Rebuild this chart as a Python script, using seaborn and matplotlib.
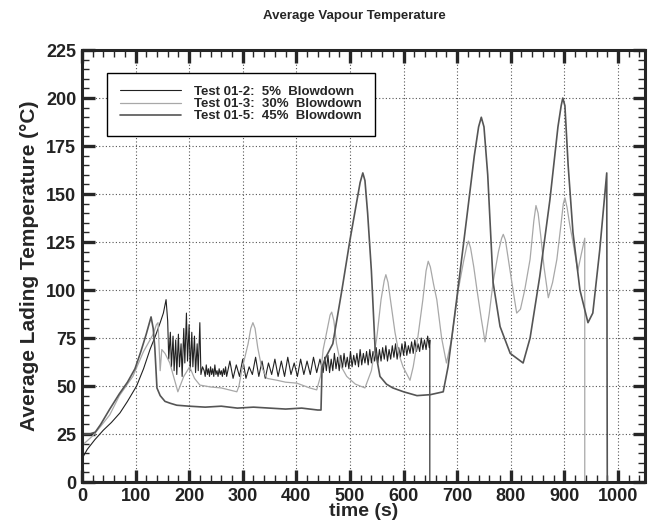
import matplotlib
matplotlib.use("Agg")
import matplotlib.pyplot as plt
import seaborn as sns
import pandas as pd
from matplotlib.ticker import MultipleLocator

# Test 01-2: 5% Blowdown (oscillating trace, ends at ~649 s)
t_012 = [0, 4, 10, 24, 40, 55, 71, 85, 102, 115, 127, 137, 146, 152, 157,
         160, 162, 165, 167, 170, 172, 175, 177, 180, 182, 185, 187, 190, 192, 195,
         197, 200, 202, 205, 207, 210, 212, 215, 217, 220, 222, 225,
         228, 230, 232, 234, 236, 238, 240, 242, 244, 246, 248, 250, 252, 254, 256,
         258, 260, 262, 264, 266, 268,
         270, 276, 282, 288, 294, 300, 306, 312, 318, 324, 330, 336, 342, 348, 354,
         360, 366, 372, 378, 384, 390, 396, 402, 408, 414, 420, 426, 432, 438, 444,
         450, 453, 456, 459, 462, 465, 468, 471, 474, 477, 480, 483, 486, 489, 492,
         495, 498, 501, 504, 507, 510, 513, 516, 519, 522, 525, 528, 531, 534, 537,
         540, 543, 546, 549, 552, 555, 558, 561, 564, 567, 570, 573, 576, 579, 582,
         585, 588, 591, 594, 597, 600, 603, 606, 609, 612, 615, 618, 621, 624, 627,
         630, 633, 636, 639, 642, 645, 648, 649, 649]
T_012 = [12, 14, 17, 22, 27, 31, 36, 42, 50, 59, 69, 76, 83, 88, 95,
         84, 64, 78, 60, 76, 58, 74, 56, 77, 60, 72, 55, 80, 62, 88,
         63, 82, 58, 78, 60, 76, 57, 72, 58, 83, 56, 60,
         58, 55, 61, 56, 59, 55, 60, 56, 59, 55, 61, 56, 58, 55, 59,
         56, 58, 55, 59, 56, 60,
         55, 63, 54, 61, 55, 64, 54, 60, 56, 65, 55, 63, 54, 62, 56,
         64, 55, 63, 55, 65, 56, 62, 55, 64, 56, 63, 56, 65, 57, 64,
         57, 65, 58, 66, 57, 64, 58, 67, 59, 65, 58, 66, 59, 67, 60,
         65, 59, 68, 60, 66, 61, 67, 60, 69, 61, 67, 62, 68, 61, 69,
         62, 68, 63, 70, 62, 69, 63, 70, 64, 71, 63, 69, 64, 71, 65,
         72, 64, 70, 65, 72, 66, 73, 66, 71, 67, 73, 67, 74, 68, 72,
         68, 75, 69, 74, 69, 76, 70, 74, 0]

# Test 01-3: 30% Blowdown (light trace, ends at ~938 s)
t_013 = [0, 4, 20, 35, 52, 70, 95, 115, 133, 139, 142, 146, 149, 155, 164, 172, 179,
         190, 201, 210, 220, 240, 260, 289, 293, 298, 310, 315, 319, 323, 328, 335, 345,
         364, 380, 401, 425, 438, 445, 450, 458, 463, 466, 470, 475, 484, 494, 510,
         528, 540, 550, 558, 564, 567, 571, 577, 584, 592, 599, 612, 618, 625, 636, 642, 646,
         650, 656, 662, 671, 680, 690, 702, 712, 718, 721, 725, 731, 737, 745, 752, 760, 767,
         777, 783, 786, 790, 796, 802, 811, 818, 826, 836, 843, 847, 851, 856, 862, 870, 878,
         886, 894, 898, 901, 905, 910, 916, 925, 931, 938, 938]
T_013 = [18, 20, 24, 29, 35, 45, 55, 68, 77, 82, 83, 58, 69, 67, 62, 54, 47,
         55, 60, 54, 50.5, 49.5, 49, 47, 50, 58, 72, 80, 83, 80, 70, 60, 54,
         53, 52, 51.5, 49, 48, 55, 69, 80, 87, 88.5, 84, 72, 60, 55, 51,
         49, 58, 75, 95, 105, 108, 104, 92, 78, 66, 60, 53, 60, 72, 95, 110, 115,
         112, 103, 95, 75, 62, 75, 100, 115, 123, 125.5, 122, 112, 100, 85, 73, 88, 104,
         120, 127, 129, 126, 115, 104, 88, 90, 100, 116, 136, 144, 140, 128, 112, 96, 104,
         116, 135, 145, 148, 143, 134, 125, 110, 118, 127, 0]

# Test 01-5: 45% Blowdown (large peaks, ends at ~980 s)
t_015 = [0, 5, 15, 25, 35, 52, 70, 85, 99, 110, 120, 129, 133, 136, 140, 146,
         155, 165, 177, 200, 230, 260, 290, 320, 350, 380, 410, 440, 446, 448,
         455, 468, 485, 500, 512, 519, 524, 528, 533, 540, 547, 556, 568, 580, 600, 625,
         650, 674, 683, 699, 718, 732, 740, 745, 750, 757, 767, 780, 799, 823, 836, 854,
         873, 888, 894, 897, 901, 907, 916, 929, 944, 953, 966, 979, 980]
T_015 = [24, 25, 25, 26, 30, 38, 46, 52, 59, 68, 77, 86, 80, 70, 49, 45,
         42, 41, 40, 39.5, 39, 39.5, 38.5, 39, 38.5, 38, 38.5, 37.5, 37.5, 60,
         65, 72, 100, 126, 145, 156, 161, 157, 140, 110, 69, 55, 51, 49, 47, 45,
         45.5, 47, 60, 95, 138, 170, 185, 190, 185, 160, 104, 81, 67, 62, 75, 107,
         147, 185, 196, 200, 196, 165, 130, 100, 83, 88, 121, 161, 0]

labels = ["Test 01-2:  5%  Blowdown", "Test 01-3:  30%  Blowdown", "Test 01-5:  45%  Blowdown"]
colors = ["#222222", "#a8a8a8", "#555555"]
widths = [0.8, 0.9, 1.2]

x_ticks = list(range(0, 1001, 100))
y_ticks = list(range(0, 226, 25))

sns.set_style("ticks")
plt.rcParams["font.family"] = ["Liberation Sans", "DejaVu Sans"]

fig = plt.figure(figsize=(6.5, 5.22), dpi=100)
ax = fig.add_axes([0.126, 0.0766, 0.866, 0.8275])

series = [(t_012, T_012), (t_013, T_013), (t_015, T_015)]
for (t, T), lab, c, w in zip(series, labels, colors, widths):
    df = pd.DataFrame({"time": t, "temp": T})
    sns.lineplot(data=df, x="time", y="temp", ax=ax, color=c, lw=w,
                 estimator=None, sort=False, label=lab)

ax.set_xlim(0, 1050)
ax.set_ylim(0, 225)
ax.set_xticks(x_ticks)
ax.set_yticks(y_ticks)
ax.xaxis.set_minor_locator(MultipleLocator(20))
ax.yaxis.set_minor_locator(MultipleLocator(5))
ax.grid(True, which="major", ls=(0, (1, 2)), color="#555555", lw=0.8)

for s in ax.spines.values():
    s.set_linewidth(2.2)
    s.set_visible(True)
ax.tick_params(which="major", direction="in", length=9, width=2.4,
               top=True, right=True, labelsize=13, pad=4)
ax.tick_params(which="minor", direction="in", length=5, width=1,
               top=True, right=True)
for lbl in ax.get_xticklabels() + ax.get_yticklabels():
    lbl.set_fontweight("bold")
    lbl.set_color("#222222")

ax.set_xlabel("time (s)", fontsize=14, fontweight="bold", labelpad=-1)
ax.set_ylabel("Average Lading Temperature (°C)", fontsize=15, fontweight="bold", labelpad=5)

fig.text(0.545, 0.97, "Average Vapour Temperature", ha="center", va="center",
         fontsize=9.5, fontweight="bold")

leg = ax.legend(loc="upper left", bbox_to_anchor=(0.045, 0.948), fontsize=9.5,
                frameon=True, fancybox=False, edgecolor="black", framealpha=1,
                handlelength=4.6, handletextpad=1.0, labelspacing=0.0,
                borderpad=1.0, borderaxespad=0)
leg.get_frame().set_linewidth(1.0)
for txt in leg.get_texts():
    txt.set_fontweight("bold")

fig.savefig("out.png", dpi=100)
